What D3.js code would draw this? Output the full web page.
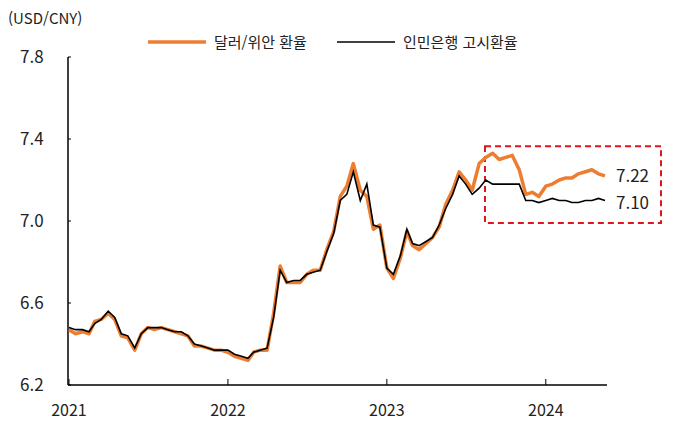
<!DOCTYPE html>
<html lang="ko">
<head>
<meta charset="utf-8" />
<title>USD/CNY</title>
<script src="https://cdn.jsdelivr.net/npm/d3@7"></script>
<style>
    body { margin: 0; background: #fff; }
    text { font-family: "Noto Sans CJK KR", "Noto Sans", sans-serif; fill: #222; }
</style>
</head>
<body>
<script>
    // semi-monthly observations, Jan 2021 - May 2024
    let months = d3.timeMonths(new Date(2021, 0, 1), new Date(2024, 5, 1));
    let dates = months.flatMap(m => [m, new Date(m.getFullYear(), m.getMonth(), 16)]);

    let cny = [
        6.47, 6.45, 6.46, 6.45, 6.51, 6.52, 6.55, 6.52, 6.44, 6.43, 6.37, 6.45,
        6.48, 6.47, 6.48, 6.47, 6.46, 6.45, 6.44, 6.39, 6.39, 6.38, 6.37, 6.37,
        6.36, 6.34, 6.33, 6.32, 6.36, 6.37, 6.37, 6.55, 6.78, 6.70, 6.70, 6.70,
        6.74, 6.76, 6.76, 6.86, 6.95, 7.12, 7.17, 7.28, 7.15, 7.12, 6.96, 6.98,
        6.77, 6.72, 6.82, 6.95, 6.88, 6.86, 6.89, 6.92, 6.97, 7.08, 7.15, 7.24,
        7.20, 7.15, 7.28, 7.31, 7.33, 7.30, 7.31, 7.32, 7.25, 7.13, 7.14, 7.12,
        7.17, 7.18, 7.20, 7.21, 7.21, 7.23, 7.24, 7.25, 7.23, 7.22
    ];
    let fixing = [
        6.48, 6.47, 6.47, 6.46, 6.50, 6.52, 6.56, 6.53, 6.45, 6.44, 6.38, 6.45,
        6.48, 6.48, 6.48, 6.47, 6.46, 6.46, 6.44, 6.40, 6.39, 6.38, 6.37, 6.37,
        6.37, 6.35, 6.34, 6.33, 6.36, 6.37, 6.38, 6.53, 6.76, 6.70, 6.71, 6.71,
        6.74, 6.75, 6.76, 6.85, 6.94, 7.10, 7.13, 7.24, 7.10, 7.18, 6.98, 6.97,
        6.77, 6.74, 6.83, 6.96, 6.89, 6.88, 6.90, 6.92, 6.98, 7.06, 7.13, 7.22,
        7.18, 7.13, 7.16, 7.20, 7.18, 7.18, 7.18, 7.18, 7.18, 7.10, 7.10, 7.09,
        7.10, 7.11, 7.10, 7.10, 7.09, 7.09, 7.10, 7.10, 7.11, 7.10
    ];
    let yTicks = [6.2, 6.6, 7.0, 7.4, 7.8];
    let xTicks = [2021, 2022, 2023, 2024];
    let seriesNames = ['달러/위안 환율', '인민은행 고시환율'];

    let width = 682, height = 445;
    let margin = { top: 57, bottom: 60, left: 68, right: 77 };

    let svg = d3.select('body').append('svg')
        .attr('width', width).attr('height', height);

    let x = d3.scaleTime()
        .domain([new Date(2021, 0, 1), new Date(2024, 4, 16)])
        .range([margin.left + 1, width - margin.right]);
    let y = d3.scaleLinear()
        .domain([6.2, 7.8])
        .range([385, margin.top]);

    // axes
    svg.append('line')
        .attr('x1', margin.left).attr('x2', margin.left)
        .attr('y1', y(7.8)).attr('y2', y(6.2))
        .attr('stroke', '#000').attr('stroke-width', 1.5);
    svg.append('line')
        .attr('x1', margin.left).attr('x2', x(new Date(2024, 4, 16)) + 2)
        .attr('y1', y(6.2)).attr('y2', y(6.2))
        .attr('stroke', '#000').attr('stroke-width', 1.5);

    svg.selectAll('.ytick').data(yTicks).enter().append('line')
        .attr('x1', margin.left).attr('x2', margin.left + 3)
        .attr('y1', d => y(d)).attr('y2', d => y(d))
        .attr('stroke', '#000');
    svg.selectAll('.ylab').data(yTicks).enter().append('text')
        .attr('x', 20).attr('y', d => y(d) + 6)
        .style('font-size', '17px')
        .text(d => d.toFixed(1));

    svg.selectAll('.xtick').data(xTicks).enter().append('line')
        .attr('x1', d => x(new Date(d, 0, 1))).attr('x2', d => x(new Date(d, 0, 1)))
        .attr('y1', y(6.2)).attr('y2', y(6.2) - 6)
        .attr('stroke', '#000');
    svg.selectAll('.xlab').data(xTicks).enter().append('text')
        .attr('x', d => x(new Date(d, 0, 1))).attr('y', 416)
        .attr('text-anchor', 'middle')
        .style('font-size', '16px')
        .text(d => d);

    svg.append('text').attr('x', 8).attr('y', 24)
        .style('font-size', '15px').text('(USD/CNY)');

    // highlight box
    svg.append('rect')
        .attr('x', 485).attr('y', y(7.365))
        .attr('width', 176).attr('height', y(6.99) - y(7.365))
        .attr('fill', 'none').attr('stroke', '#e0161e')
        .attr('stroke-width', 2).attr('stroke-dasharray', '6,4');

    let line = d3.line().x((d, i) => x(dates[i])).y(d => y(d));

    svg.append('path').datum(cny)
        .attr('d', line).attr('fill', 'none')
        .attr('stroke', '#ED7D31').attr('stroke-width', 3.5)
        .attr('stroke-linejoin', 'round');
    svg.append('path').datum(fixing)
        .attr('d', line).attr('fill', 'none')
        .attr('stroke', '#000').attr('stroke-width', 1.6);

    // end labels
    svg.append('text').attr('x', 616).attr('y', y(cny[cny.length - 1]) + 6)
        .style('font-size', '17px').text(cny[cny.length - 1].toFixed(2));
    svg.append('text').attr('x', 616).attr('y', y(fixing[fixing.length - 1]) + 8)
        .style('font-size', '17px').text(fixing[fixing.length - 1].toFixed(2));

    // legend
    let legend = [
        { name: seriesNames[0], x: 148, color: '#ED7D31', w: 3.5 },
        { name: seriesNames[1], x: 337, color: '#000', w: 1.6 }
    ];
    let lg = svg.selectAll('.legend').data(legend).enter().append('g')
        .attr('transform', d => `translate(${d.x},42)`);
    lg.append('line').attr('x1', 0).attr('x2', 58)
        .attr('stroke', d => d.color).attr('stroke-width', d => d.w);
    lg.append('text').attr('x', 66).attr('y', 6)
        .style('font-size', '15px').text(d => d.name);
</script>
</body>
</html>
